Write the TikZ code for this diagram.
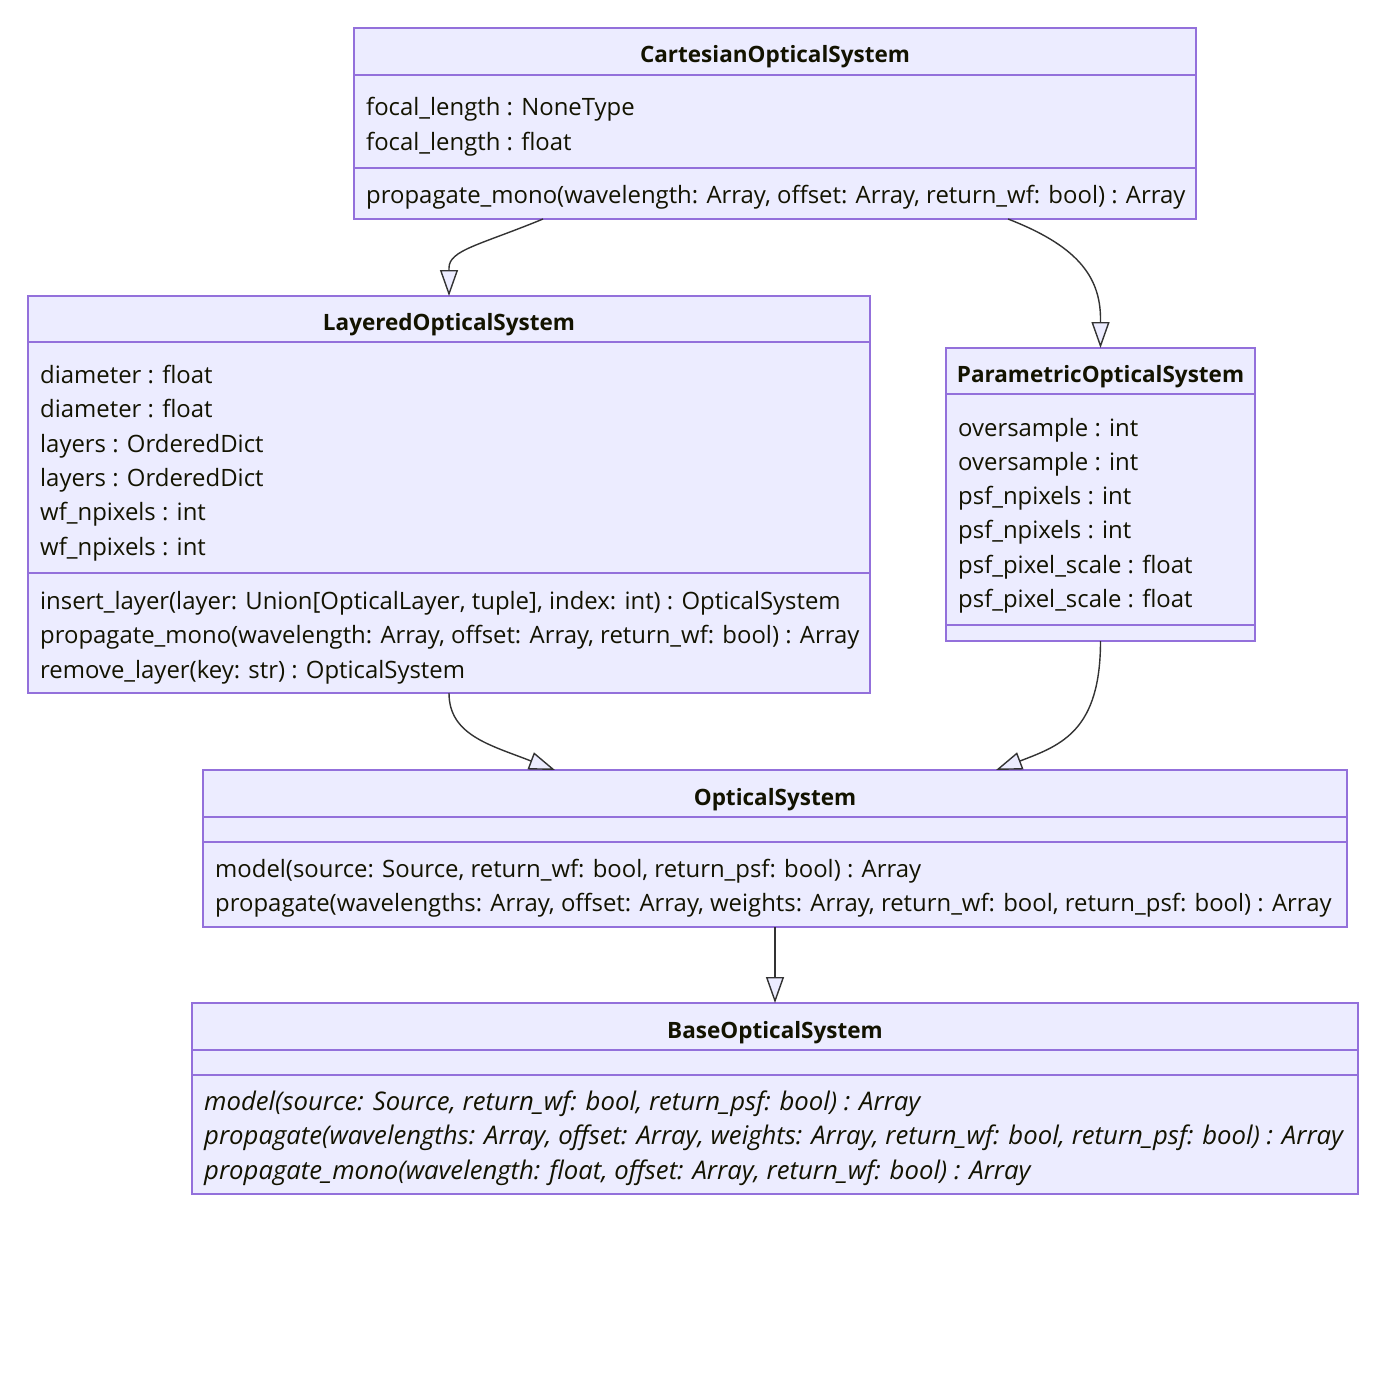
\documentclass[tikz,border=0pt]{standalone}
\usepackage{fontspec}
\setmainfont{Open Sans}
\usetikzlibrary{arrows.meta}
\definecolor{boxfill}{HTML}{ECECFF}
\definecolor{boxline}{HTML}{9370DB}
\definecolor{edge}{HTML}{333333}
\definecolor{ink}{HTML}{131300}
\tikzset{
  classbox/.style={draw=boxline, fill=boxfill, line width=1.4pt, inner sep=0pt, outer sep=0pt, anchor=north west},
  divider/.style={draw=boxline, line width=1.4pt},
  classtitle/.style={font=\fontsize{22.5}{28}\selectfont\bfseries, text=ink, anchor=base, inner sep=0pt},
  member/.style={font=\fontsize{23.9}{30}\selectfont, text=ink, anchor=base west, inner sep=0pt},
  abstractmember/.style={member, font=\fontsize{25.7}{30}\selectfont\itshape},
  inherit/.style={draw=edge, line width=1.4pt, -{Triangle[length=26pt, width=18pt, fill=boxfill]}},
}
\begin{document}
\begin{tikzpicture}[x=1pt, y=-1pt]
\useasboundingbox[fill=white] (0,0) rectangle (1386,1386);

% CartesianOpticalSystem
\node[classbox, minimum width=842pt, minimum height=191pt] (cart) at (354,28) {};
\draw[divider] (354,75) -- (1196,75);
\draw[divider] (354,168) -- (1196,168);
\node[classtitle] (cart-t) at (775,63) {CartesianOpticalSystem};
\node[member] (cart-a1) at (366,116) {focal\_length : NoneType};
\node[member] (cart-a2) at (366,150.5) {focal\_length : float};
\node[member] (cart-m1) at (366,203.5) {propagate\_mono(wavelength: Array, offset: Array, return\_wf: bool) : Array};

% LayeredOpticalSystem
\node[classbox, minimum width=842pt, minimum height=397pt] (layered) at (28,296) {};
\draw[divider] (28,342) -- (870,342);
\draw[divider] (28,573) -- (870,573);
\node[classtitle] (layered-t) at (449,330.5) {LayeredOpticalSystem};
\node[member] (layered-a1) at (40,383.5) {diameter : float};
\node[member] (layered-a2) at (40,417.8) {diameter : float};
\node[member] (layered-a3) at (40,452.1) {layers : OrderedDict};
\node[member] (layered-a4) at (40,486.4) {layers : OrderedDict};
\node[member] (layered-a5) at (40,520.7) {wf\_npixels : int};
\node[member] (layered-a6) at (40,555) {wf\_npixels : int};
\node[member] (layered-m1) at (40,609.5) {insert\_layer(layer: Union[OpticalLayer, tuple], index: int) : OpticalSystem};
\node[member] (layered-m2) at (40,643.7) {propagate\_mono(wavelength: Array, offset: Array, return\_wf: bool) : Array};
\node[member] (layered-m3) at (40,678) {remove\_layer(key: str) : OpticalSystem};

% ParametricOpticalSystem
\node[classbox, minimum width=309pt, minimum height=293pt] (param) at (946,348) {};
\draw[divider] (946,394) -- (1255,394);
\draw[divider] (946,625) -- (1255,625);
\node[classtitle] (param-t) at (1100.5,382) {ParametricOpticalSystem};
\node[member] (param-a1) at (958,436) {oversample : int};
\node[member] (param-a2) at (958,470.3) {oversample : int};
\node[member] (param-a3) at (958,504.6) {psf\_npixels : int};
\node[member] (param-a4) at (958,538.9) {psf\_npixels : int};
\node[member] (param-a5) at (958,573.2) {psf\_pixel\_scale : float};
\node[member] (param-a6) at (958,607.5) {psf\_pixel\_scale : float};

% OpticalSystem
\node[classbox, minimum width=1144pt, minimum height=157pt] (optical) at (203,770) {};
\draw[divider] (203,817) -- (1347,817);
\draw[divider] (203,842) -- (1347,842);
\node[classtitle] (optical-t) at (775,805) {OpticalSystem};
\node[member] (optical-m1) at (215,877.5) {model(source: Source, return\_wf: bool, return\_psf: bool) : Array};
\node[member] (optical-m2) at (215,911.5) {propagate(wavelengths: Array, offset: Array, weights: Array, return\_wf: bool, return\_psf: bool) : Array};

% BaseOpticalSystem
\node[classbox, minimum width=1166pt, minimum height=191pt] (base) at (192,1003) {};
\draw[divider] (192,1050) -- (1358,1050);
\draw[divider] (192,1075) -- (1358,1075);
\node[classtitle] (base-t) at (775,1038) {BaseOpticalSystem};
\node[abstractmember] (base-m1) at (204,1110.5) {model(source: Source, return\_wf: bool, return\_psf: bool) : Array};
\node[abstractmember] (base-m2) at (204,1144.5) {propagate(wavelengths: Array, offset: Array, weights: Array, return\_wf: bool, return\_psf: bool) : Array};
\node[abstractmember] (base-m3) at (204,1179) {propagate\_mono(wavelength: float, offset: Array, return\_wf: bool) : Array};

% inheritance connectors
\draw[inherit] ([xshift=-232pt]cart.south) .. controls (480,245) and (449,250) .. (449,268) -- (layered.north);
\draw[inherit] ([xshift=233pt]cart.south) .. controls (1075,245) and (1100.5,275) .. (1100.5,319) -- (param.north);
\draw[inherit] (layered.south) .. controls (449,735) and (490,745) .. (530,760.6) -- ([xshift=-220pt]optical.north);
\draw[inherit] (param.south) .. controls (1100.5,730) and (1062,745) .. (1021,760.6) -- ([xshift=221pt]optical.north);
\draw[inherit] (optical.south) -- (base.north);
\end{tikzpicture}
\end{document}
